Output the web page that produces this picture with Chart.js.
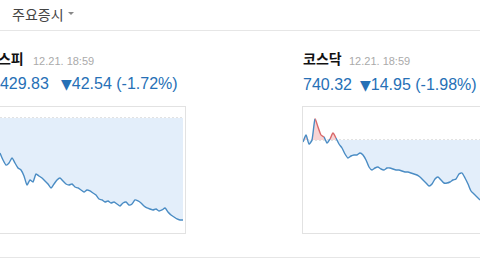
<!DOCTYPE html>
<html><head><meta charset="utf-8">
<script src="https://cdn.jsdelivr.net/npm/chart.js@4/dist/chart.umd.min.js"></script>
<style>
html,body{margin:0;padding:0;width:480px;height:270px;overflow:hidden;background:#fff;position:relative;font-family:"Liberation Sans",Arial,sans-serif;}
.abs{position:absolute;white-space:nowrap;}
.head{left:12px;top:4px;font:14px/20px "Noto Sans CJK KR",sans-serif;color:#444;}
.caret{left:68px;top:12px;width:0;height:0;border-left:3px solid transparent;border-right:3px solid transparent;border-top:3px solid #888;}
.hr{left:0;width:480px;height:1px;background:#e6e6e6;}
.title{font:bold 14px/18px "Noto Sans CJK KR",sans-serif;color:#111;}
.date{font:11px/14px "Liberation Sans",sans-serif;color:#aaa;}
.val{font:16px/20px "Liberation Sans",sans-serif;color:#2670b6;}
.tri{font:14px/20px "DejaVu Sans",sans-serif;}
.box{border:1px solid #e2e2e2;}
</style></head>
<body>
<div class="abs head">주요증시</div>
<div class="abs caret"></div>
<div class="abs hr" style="top:30px"></div>

<div class="abs title" style="left:-15px;top:49px">코스피</div>
<div class="abs date" style="left:33px;top:54px">12.21. 18:59</div>
<div class="abs val" style="left:-9px;top:74px">2429.83</div>
<div class="abs val" style="left:61px;top:74px"><span class="tri">▼</span>42.54 (-1.72%)</div>

<div class="abs title" style="left:303px;top:49px">코스닥</div>
<div class="abs date" style="left:349px;top:54px">12.21. 18:59</div>
<div class="abs val" style="left:303px;top:75px">740.32</div>
<div class="abs val" style="left:360px;top:75px"><span class="tri">▼</span>14.95 (-1.98%)</div>

<div class="abs box" style="left:-10px;top:106px;width:194px;height:126px"></div>
<div class="abs box" style="left:302px;top:106px;width:200px;height:126px"></div>
<div class="abs hr" style="top:257px"></div>

<canvas id="kospi" class="abs" style="left:0px;top:107px" width="183" height="126"></canvas>
<canvas id="kosdaq" class="abs" style="left:303px;top:107px" width="177" height="126"></canvas>

<script>
const kospiPrevClose = 2472.37;
const kospiValues = [2457.77,2454.86,2452.77,2453.60,2455.69,2453.60,2451.52,2450.69,2448.18,2444.43,2446.52,2445.68,2449.02,2448.18,2447.35,2446.10,2444.85,2443.18,2444.85,2446.52,2447.35,2446.10,2444.85,2444.43,2444.85,2443.60,2443.18,2442.35,2441.51,2442.35,2441.93,2441.09,2440.26,2438.59,2438.18,2437.34,2437.76,2436.92,2437.34,2436.51,2435.67,2436.92,2437.34,2436.09,2436.51,2438.18,2437.76,2436.92,2435.67,2434.84,2434.42,2434.01,2434.42,2433.59,2434.01,2434.84,2433.17,2431.92,2431.09,2430.25,2429.83,2429.83];
const kosdaqPrevClose = 755.27;
const kosdaqValues = [754.91,756.17,754.55,755.27,759.05,757.61,756.17,755.81,754.73,755.45,756.53,755.63,754.55,753.83,752.75,752.03,752.39,752.57,752.57,752.93,752.57,751.67,750.41,749.87,750.23,750.41,750.05,749.87,750.23,750.23,750.05,749.87,749.87,749.69,749.51,749.51,749.33,749.15,748.97,748.61,748.07,747.53,746.99,747.35,748.25,748.61,748.07,747.53,747.53,747.71,748.07,748.25,749.15,749.33,748.43,747.35,746.09,745.55,745.01,744.47];

const UP_LINE='#d9686a', UP_FILL='#f8d4d4', DOWN_LINE='#4a8cc4', DOWN_FILL='#e3eefa';

function makeChart(id, values, prev, yMin, yMax){
  const labels = values.map((_,i)=>i);
  new Chart(document.getElementById(id), {
    type:'line',
    data:{labels, datasets:[
      {data:values, borderWidth:1.4, pointRadius:0, tension:0.2,
       borderColor:DOWN_LINE,
       segment:{borderColor:c=> (c.p0.parsed.y>prev && c.p1.parsed.y>prev)?UP_LINE:DOWN_LINE},
       fill:{target:{value:prev}, above:UP_FILL, below:DOWN_FILL}},
      {data:values.map(()=>prev), borderWidth:1, borderColor:'#c4c4c4', borderDash:[2,2], pointRadius:0, fill:false}
    ]},
    options:{responsive:false, animation:false, events:[],
      layout:{padding:0},
      plugins:{legend:{display:false}, tooltip:{enabled:false}},
      scales:{x:{display:false, offset:false}, y:{display:false, min:yMin, max:yMax}}}
  });
}
makeChart('kospi', kospiValues, kospiPrevClose, 2424.41, 2476.96);
makeChart('kosdaq', kosdaqValues, kosdaqPrevClose, 738.53, 761.21);
</script>
</body></html>
